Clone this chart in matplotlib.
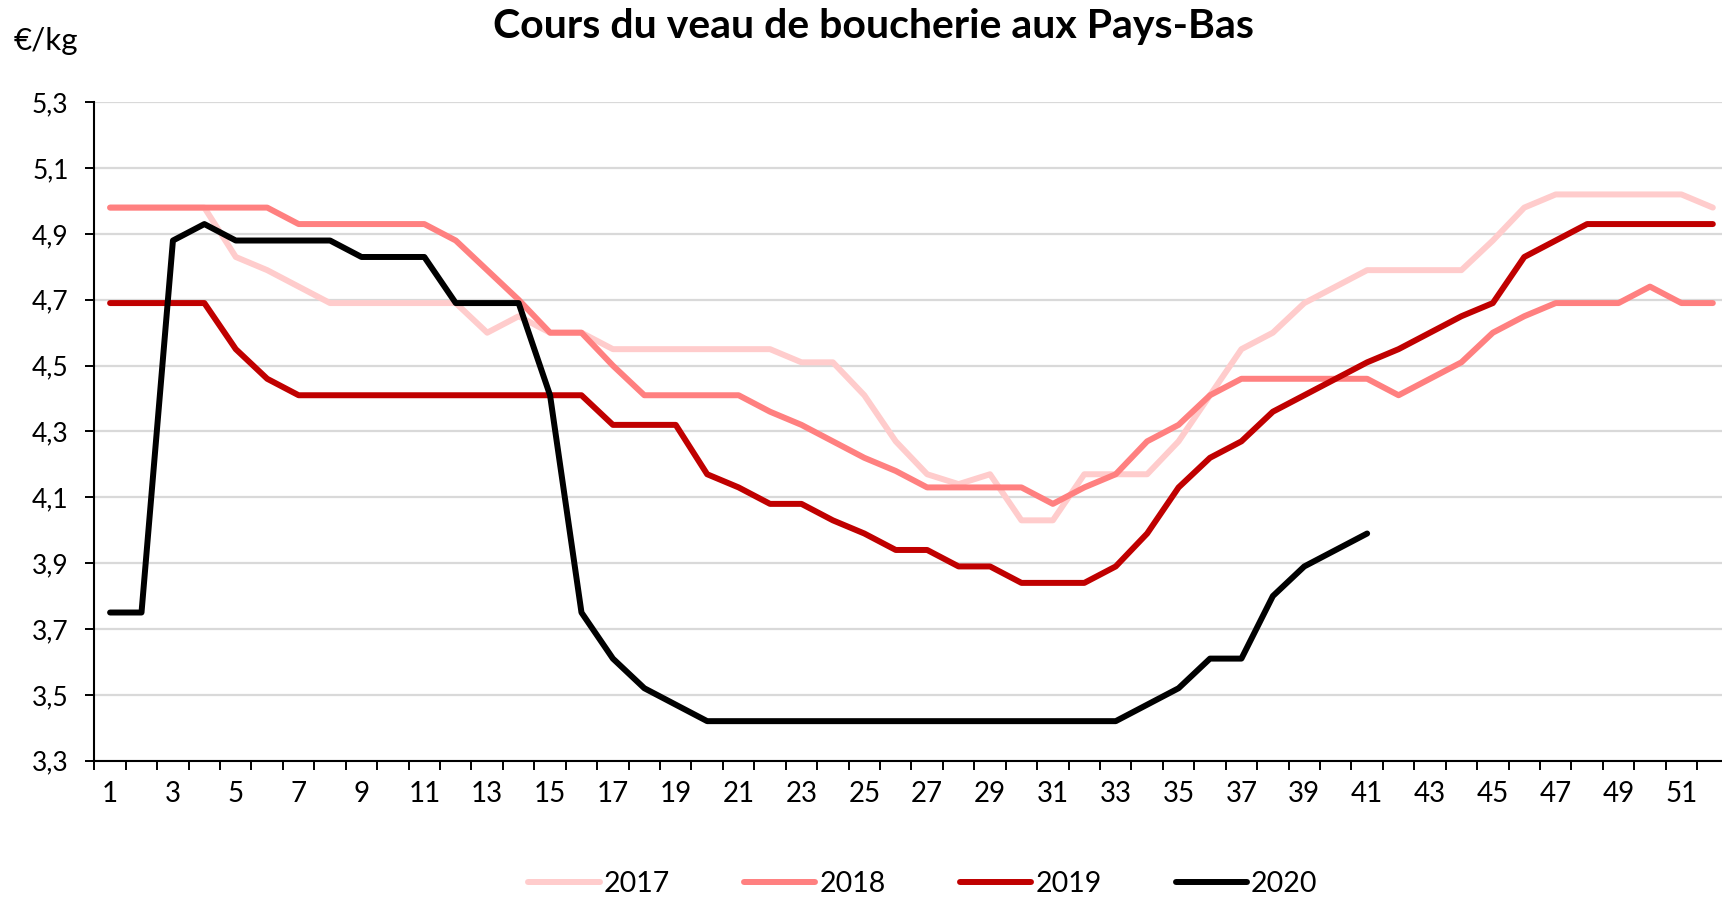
import matplotlib
matplotlib.use("Agg")
import matplotlib.pyplot as plt
from matplotlib.ticker import FuncFormatter, FixedLocator

plt.rcParams['font.family'] = ['Lato', 'DejaVu Sans']

# weekly prices, EUR/kg
weeks = list(range(1, 53))
p2017 = [4.98, 4.98, 4.98, 4.98, 4.83, 4.79, 4.74, 4.69, 4.69, 4.69,
         4.69, 4.69, 4.60, 4.65, 4.60, 4.60, 4.55, 4.55, 4.55, 4.55,
         4.55, 4.55, 4.51, 4.51, 4.41, 4.27, 4.17, 4.14, 4.17, 4.03,
         4.03, 4.17, 4.17, 4.17, 4.27, 4.41, 4.55, 4.60, 4.69, 4.74,
         4.79, 4.79, 4.79, 4.79, 4.88, 4.98, 5.02, 5.02, 5.02, 5.02,
         5.02, 4.98]
p2018 = [4.98, 4.98, 4.98, 4.98, 4.98, 4.98, 4.93, 4.93, 4.93, 4.93,
         4.93, 4.88, 4.79, 4.70, 4.60, 4.60, 4.50, 4.41, 4.41, 4.41,
         4.41, 4.36, 4.32, 4.27, 4.22, 4.18, 4.13, 4.13, 4.13, 4.13,
         4.08, 4.13, 4.17, 4.27, 4.32, 4.41, 4.46, 4.46, 4.46, 4.46,
         4.46, 4.41, 4.46, 4.51, 4.60, 4.65, 4.69, 4.69, 4.69, 4.74,
         4.69, 4.69]
p2019 = [4.69, 4.69, 4.69, 4.69, 4.55, 4.46, 4.41, 4.41, 4.41, 4.41,
         4.41, 4.41, 4.41, 4.41, 4.41, 4.41, 4.32, 4.32, 4.32, 4.17,
         4.13, 4.08, 4.08, 4.03, 3.99, 3.94, 3.94, 3.89, 3.89, 3.84,
         3.84, 3.84, 3.89, 3.99, 4.13, 4.22, 4.27, 4.36, 4.41, 4.46,
         4.51, 4.55, 4.60, 4.65, 4.69, 4.83, 4.88, 4.93, 4.93, 4.93,
         4.93, 4.93]
p2020 = [3.75, 3.75, 4.88, 4.93, 4.88, 4.88, 4.88, 4.88, 4.83, 4.83,
         4.83, 4.69, 4.69, 4.69, 4.41, 3.75, 3.61, 3.52, 3.47, 3.42,
         3.42, 3.42, 3.42, 3.42, 3.42, 3.42, 3.42, 3.42, 3.42, 3.42,
         3.42, 3.42, 3.42, 3.47, 3.52, 3.61, 3.61, 3.80, 3.89, 3.94,
         3.99]

series = [("2017", p2017, "#FFCCCC"),
          ("2018", p2018, "#FF8080"),
          ("2019", p2019, "#C00000"),
          ("2020", p2020, "#000000")]

fig = plt.figure(figsize=(17.22, 8.97), dpi=100)
ax = fig.add_axes([0.0548, 0.152, 0.949, 0.734])

for name, vals, col in series:
    ax.plot(weeks[:len(vals)], vals, color=col, lw=4.3, label=name,
            solid_capstyle='round', solid_joinstyle='round')

ax.set_xlim(0.5, 52.5)
ax.set_ylim(3.3, 5.3)

yt = [3.3 + 0.2 * i for i in range(11)]
ax.set_yticks(yt)
ax.yaxis.set_major_formatter(FuncFormatter(lambda v, p: f"{v:.1f}".replace(".", ",")))
ax.yaxis.grid(True, color="#D9D9D9", lw=1.6)
ax.set_axisbelow(True)

ax.xaxis.set_major_locator(FixedLocator(list(range(1, 53, 2))))
ax.xaxis.set_major_formatter(FuncFormatter(lambda v, p: f"{int(round(v))}"))
ax.xaxis.set_minor_locator(FixedLocator([w + 0.5 for w in range(0, 53)]))
ax.tick_params(axis='x', which='major', length=0, pad=15, labelsize=20)
ax.tick_params(axis='x', which='minor', length=6.5, width=1.4, direction='out')
ax.tick_params(axis='y', length=6.5, width=1.4, pad=12, labelsize=19)

for s in ['top', 'right']:
    ax.spines[s].set_visible(False)
for s in ['left', 'bottom']:
    ax.spines[s].set_linewidth(1.5)
    ax.spines[s].set_color('black')

fig.text(0.507, 0.970, "Cours du veau de boucherie aux Pays-Bas",
         ha='center', va='center', fontsize=29.5, fontweight='bold')
fig.text(0.008, 0.944, "€/kg", ha='left', va='baseline', fontsize=22.5)

fig.legend(loc='center', bbox_to_anchor=(0.536, 0.0145), ncol=4, frameon=False,
           fontsize=20.5, handlelength=2.5, handletextpad=0.15, columnspacing=2.6)

fig.savefig("out.png", dpi=100)
